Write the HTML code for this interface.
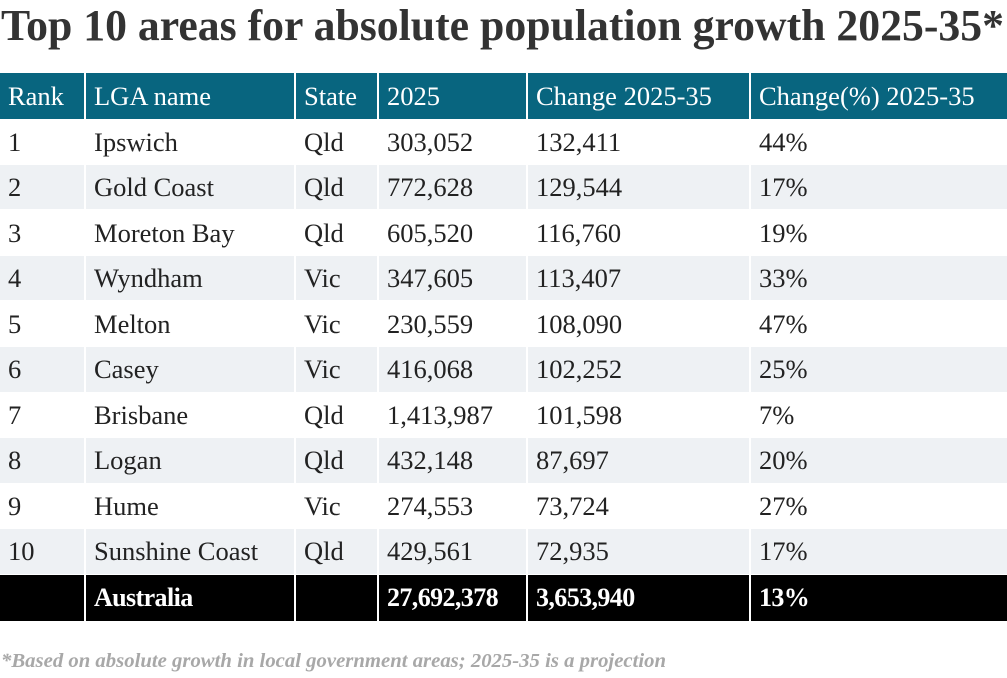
<!DOCTYPE html>
<html><head><meta charset="utf-8"><style>
body{margin:0;width:1007px;height:678px;background:#fff;overflow:hidden;position:relative;font-family:"Liberation Serif",serif}
.cell{position:absolute;box-sizing:border-box;padding-left:8px;font-size:26.5px;line-height:46px;color:#222;white-space:nowrap}
.hdr{background:#08657f;color:#fff}
.tot{background:#000;color:#fff;font-weight:bold;letter-spacing:-0.6px;font-size:26px}
.alt{background:#eef1f4}
</style></head><body>
<svg width="1007" height="60" style="position:absolute;left:0;top:0">
<text x="1" y="40" textLength="1003" lengthAdjust="spacingAndGlyphs" font-family="Liberation Serif, serif" font-weight="bold" font-size="44" fill="#333">Top 10 areas for absolute population growth 2025-35*</text>
</svg>
<div id="tbl"></div>
<svg width="1007" height="30" style="position:absolute;left:0;top:646">
<text x="1" y="21" textLength="665" lengthAdjust="spacingAndGlyphs" font-family="Liberation Serif, serif" font-style="italic" font-weight="bold" font-size="20" fill="#a8a8a8">*Based on absolute growth in local government areas; 2025-35 is a projection</text>
</svg>
<script>
const headers=["Rank","LGA name","State","2025","Change 2025-35","Change(%) 2025-35"];
const ranks=["1","2","3","4","5","6","7","8","9","10"];
const names=["Ipswich","Gold Coast","Moreton Bay","Wyndham","Melton","Casey","Brisbane","Logan","Hume","Sunshine Coast"];
const states=["Qld","Qld","Qld","Vic","Vic","Vic","Qld","Qld","Vic","Qld"];
const pop2025=["303,052","772,628","605,520","347,605","230,559","416,068","1,413,987","432,148","274,553","429,561"];
const change=["132,411","129,544","116,760","113,407","108,090","102,252","101,598","87,697","73,724","72,935"];
const changePct=["44%","17%","19%","33%","47%","25%","7%","20%","27%","17%"];
const totalRow=["","Australia","","27,692,378","3,653,940","13%"];
const colX=[0,86,296,379,528,751,1007];
const top0=73,hH=46,rH=45.6;
const tbl=document.getElementById('tbl');
function cell(txt,c,y,h,cls){
  const d=document.createElement('div');
  d.className='cell '+cls;
  d.style.left=colX[c]+'px';d.style.top=y+'px';
  d.style.width=(colX[c+1]-colX[c]-(c<5?2:0))+'px';d.style.height=h+'px';d.style.lineHeight=h+'px';
  d.textContent=txt;
  tbl.appendChild(d);return d;
}
headers.forEach((h,c)=>{
  const d=cell(h,c,top0,hH,'hdr');
  
  
});
for(let r=0;r<ranks.length;r++){
  const vals=[ranks[r],names[r],states[r],pop2025[r],change[r],changePct[r]];
  const y=top0+hH+r*rH;
  vals.forEach((v,c)=>{
    const d=cell(v,c,Math.round(y),Math.round(y+rH)-Math.round(y)-(r%2?1:0),r%2?'alt':'');
    
    
  });
}
const ty=Math.round(top0+hH+ranks.length*rH);
totalRow.forEach((v,c)=>{
  const d=cell(v,c,ty,46,'tot');
  
  
});
</script>
</body></html>
